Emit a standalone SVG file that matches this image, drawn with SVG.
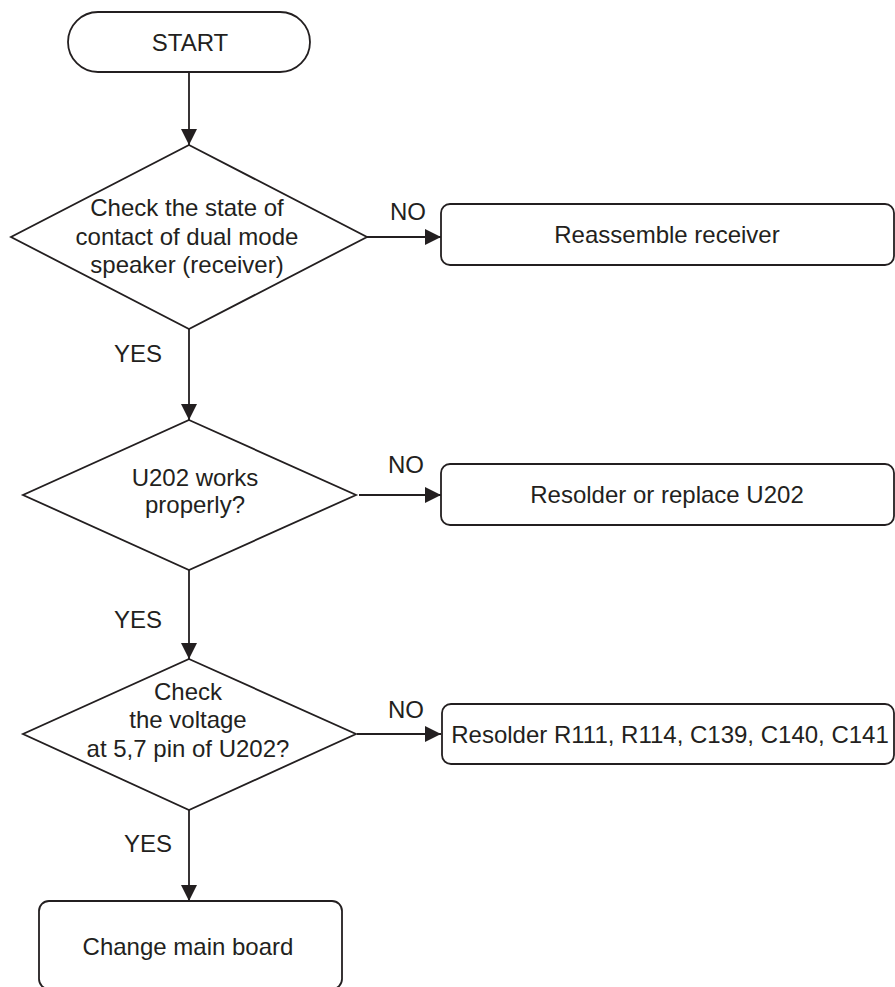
<svg xmlns="http://www.w3.org/2000/svg" width="895" height="987" viewBox="0 0 895 987">
<style>
.s{fill:#fff;stroke:#231f20;stroke-width:1.8;stroke-linejoin:miter}
.t{font-family:"Liberation Sans",Arial,sans-serif;font-size:24px;fill:#231f20;text-anchor:middle}
.l{font-family:"Liberation Sans",Arial,sans-serif;font-size:24px;fill:#231f20}
.c{fill:none;stroke:#231f20;stroke-width:1.8}
</style>
<defs>
<marker id="ah" markerUnits="userSpaceOnUse" markerWidth="16" markerHeight="16" viewBox="0 0 14 14" refX="14" refY="7" orient="auto">
<path d="M0,0 L14,7 L0,14 Z" fill="#231f20"/>
</marker>
</defs>
<rect width="895" height="987" fill="#fff"/>
<g id="connectors">
<line class="c" x1="189" y1="72" x2="189" y2="145" marker-end="url(#ah)"/>
<line class="c" x1="189" y1="329" x2="189" y2="420" marker-end="url(#ah)"/>
<line class="c" x1="189" y1="570" x2="189" y2="659" marker-end="url(#ah)"/>
<line class="c" x1="189" y1="810" x2="189" y2="901" marker-end="url(#ah)"/>
<line class="c" x1="367" y1="237" x2="441" y2="237" marker-end="url(#ah)"/>
<line class="c" x1="359" y1="495" x2="441" y2="495" marker-end="url(#ah)"/>
<line class="c" x1="357" y1="734" x2="441" y2="734" marker-end="url(#ah)"/>
<text class="l" x="390" y="220">NO</text>
<text class="l" x="388" y="473">NO</text>
<text class="l" x="388" y="718">NO</text>
<text class="l" x="114" y="362">YES</text>
<text class="l" x="114" y="628">YES</text>
<text class="l" x="124" y="852">YES</text>
</g>
<g id="start">
<rect class="s" x="68" y="12" width="242" height="60" rx="30" ry="30"/>
<text class="t" x="190" y="51">START</text>
</g>
<g id="decision1">
<polygon class="s" points="189,145 367,237 189,329 11,237"/>
<text class="t" x="187" y="216">Check the state of</text>
<text class="t" x="187" y="245">contact of dual mode</text>
<text class="t" x="187" y="273">speaker (receiver)</text>
</g>
<g id="reassemble">
<rect class="s" x="441" y="204" width="453" height="61" rx="9" ry="9"/>
<text class="t" x="667" y="243">Reassemble receiver</text>
</g>
<g id="decision2">
<polygon class="s" points="189,420 356,495 189,570 23,495"/>
<text class="t" x="195" y="486">U202 works</text>
<text class="t" x="195" y="513">properly?</text>
</g>
<g id="resolder-u202">
<rect class="s" x="441" y="464" width="453" height="61" rx="9" ry="9"/>
<text class="t" x="667" y="503">Resolder or replace U202</text>
</g>
<g id="decision3">
<polygon class="s" points="189,659 356,734 189,810 23,734"/>
<text class="t" x="188" y="700">Check</text>
<text class="t" x="188" y="728">the voltage</text>
<text class="t" x="188" y="757">at 5,7 pin of U202?</text>
</g>
<g id="resolder-parts">
<rect class="s" x="442" y="704" width="452" height="60" rx="9" ry="9"/>
<text class="t" x="670" y="743">Resolder R111, R114, C139, C140, C141</text>
</g>
<g id="change-board">
<rect class="s" x="39" y="901" width="303" height="88" rx="10" ry="10"/>
<text class="t" x="188" y="955">Change main board</text>
</g>
</svg>
